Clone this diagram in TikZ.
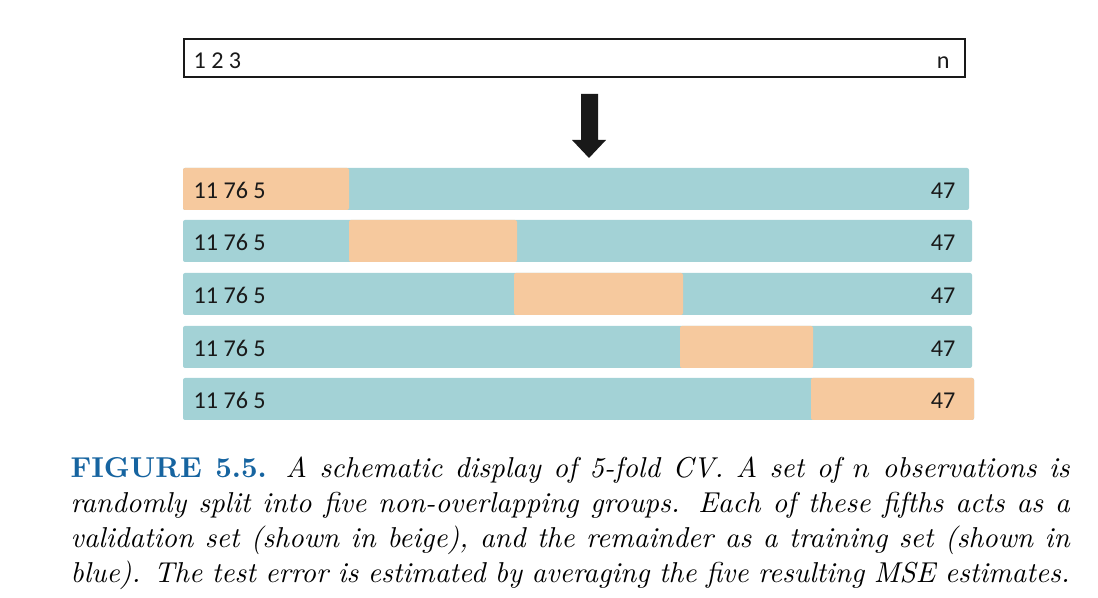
\documentclass[tikz,border=0pt]{standalone}
\usepackage{fontspec}
\newfontfamily\barfont{Carlito}
\definecolor{trainblue}{RGB}{163,210,214}
\definecolor{validbeige}{RGB}{246,201,158}
\definecolor{capblue}{RGB}{22,100,160}
\tikzset{
  train/.style={fill=trainblue, rounded corners=0.7pt},
  valid/.style={fill=validbeige, rounded corners=0.7pt},
  lbl/.style={inner sep=0pt, text=black!90, font=\barfont\fontsize{8.4}{10}\selectfont}
}

\begin{document}
\begin{tikzpicture}[x=0.3478pt, y=-0.3478pt]
  \useasboundingbox (0,0) rectangle (1098,598);
  % all observations
  \draw[line width=1pt, black!90] (184,39) rectangle (965,77);
  \node[lbl, anchor=base west] (first) at (193,69) {1 2 3};
  \node[lbl, anchor=base east] (last) at (950,69) {n};
  \fill[black!90] (581,94) -- (598,94) -- (598,140) -- (606,140) -- (589,158)
    -- (572,140) -- (581,140) -- cycle;
  % fold 1
  \fill[train] (183,168) rectangle (969,210);
  \fill[valid] (183,168) rectangle (349,210);
  \node[lbl, anchor=base west] (fa) at (193,199) {11 76 5};
  \node[lbl, anchor=base east] (la) at (956,199) {47};
  % fold 2
  \fill[train] (183,220) rectangle (972,262);
  \fill[valid] (349,220) rectangle (517,262);
  \node[lbl, anchor=base west] (fb) at (193,251) {11 76 5};
  \node[lbl, anchor=base east] (lb) at (956,251) {47};
  % fold 3
  \fill[train] (183,273) rectangle (972,315);
  \fill[valid] (514,273) rectangle (683,315);
  \node[lbl, anchor=base west] (fc) at (193,304) {11 76 5};
  \node[lbl, anchor=base east] (lc) at (956,304) {47};
  % fold 4
  \fill[train] (183,326) rectangle (972,368);
  \fill[valid] (680,326) rectangle (813,368);
  \node[lbl, anchor=base west] (fd) at (193,357) {11 76 5};
  \node[lbl, anchor=base east] (ld) at (956,357) {47};
  % fold 5
  \fill[train] (183,378) rectangle (974,420);
  \fill[valid] (811,378) rectangle (974,420);
  \node[lbl, anchor=base west] (fe) at (193,409) {11 76 5};
  \node[lbl, anchor=base east] (le) at (956,409) {47};
  % caption
  \node[anchor=north west, inner sep=0pt, text width=347.5pt, align=justify,
    font=\fontsize{10}{12.17}\selectfont] (caption) at (70,456)
    {\parfillskip=0pt{\color{capblue}\bfseries FIGURE 5.5.} \itshape A schematic
    display of 5-fold CV. A set of $n$ observations is\linebreak randomly split
    into five non-overlapping groups. Each of these fifths acts as a\linebreak
    validation set (shown in beige), and the remainder as a training set (shown
    in\linebreak blue). The test error is estimated by averaging the five
    resulting MSE estimates.};
\end{tikzpicture}
\end{document}
